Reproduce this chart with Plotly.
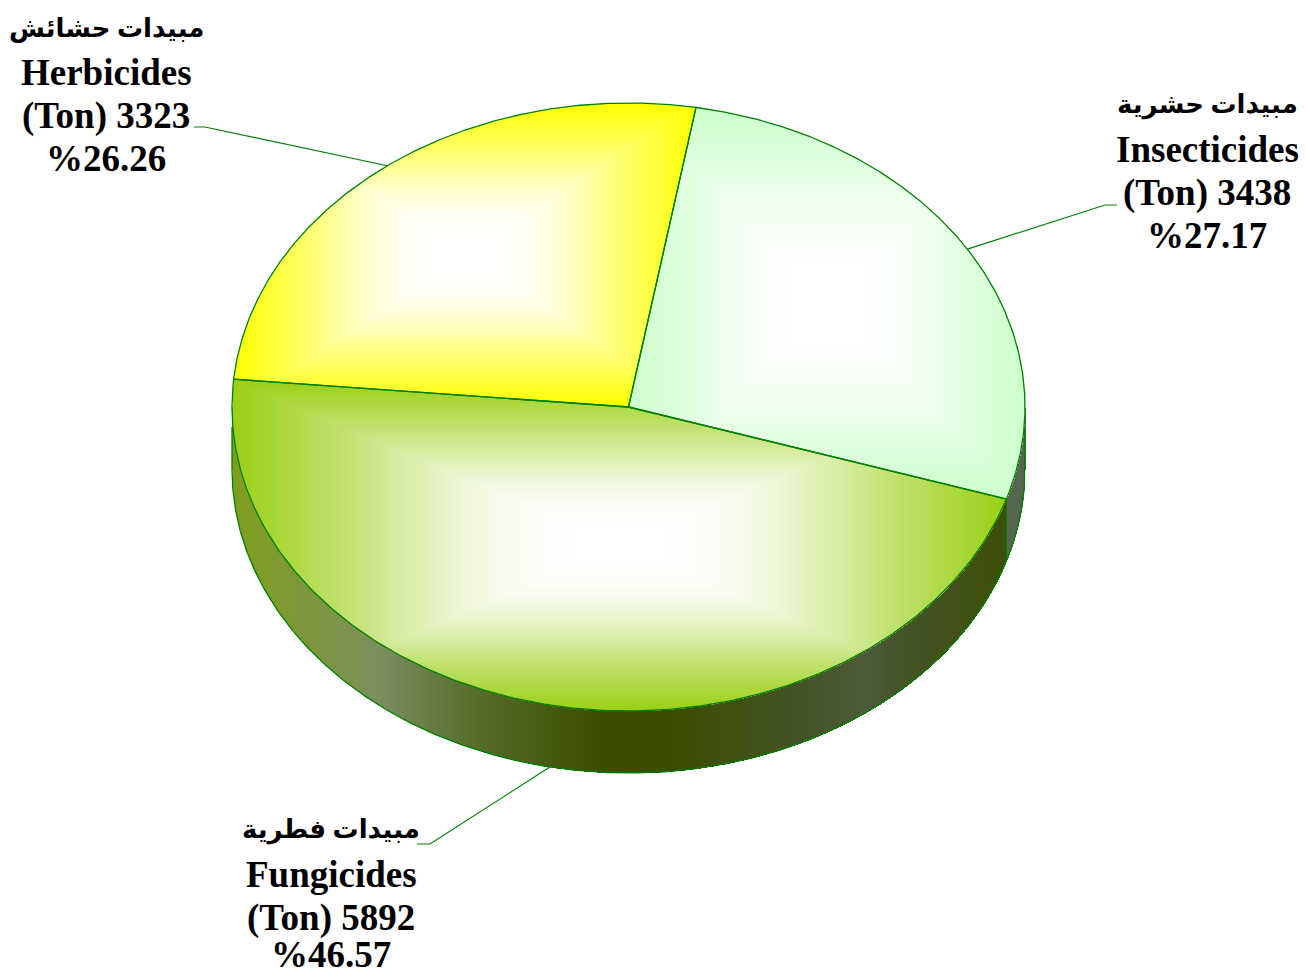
import numpy as np
import plotly.graph_objects as go

# ---- data ----
names_ar = ["مبيدات حشرية", "مبيدات فطرية", "مبيدات حشائش"]
names_en = ["Insecticides", "Fungicides", "Herbicides"]
tons = [3438, 5892, 3323]
pct_labels = ["%27.17", "%46.57", "%26.26"]
face_colors = ["#CCFFCC", "#9ACF14", "#FFFF00"]

# ---- pie geometry and styling ----
W, H = 1306, 976
CX, CY, RX, RY, DEPTH = 628.5, 407.0, 396.5, 304.0, 62.0
ROTATION = 9.8
EDGE = "#008000"
LABEL_POS = [(1207, 105), (331, 830), (106, 28)]   # centre of the first label line
ELBOWS = [((1117, 205), (1105, 205)), ((417, 844), (430, 844)), ((194, 127), (205, 127))]
LINE_GAP = 42.8
wall_stops = [[(0.0, "#7F9F1A"), (0.19, "#7B8E5E"), (0.32, "#556B28"), (0.476, "#3C4D00"), (0.554, "#3C4D00"),
               (0.71, "#425220"), (0.82, "#4D5A3A"), (0.865, "#465428"), (1.0, "#3C4E08")],
              [(0.0, "#55654F"), (1.0, "#55654F")]]
mix_stops = [(0, 0.0), (0.1, 0.0), (0.25, 0.04), (0.4, 0.16), (0.55, 0.37), (0.7, 0.6), (0.85, 0.8), (1, 1.0)]

total = sum(tons)
angles = ROTATION + np.cumsum([0] + tons) / total * 360.0


def pt(a, dy=0.0):
    r = np.deg2rad(a)
    return CX + RX * np.sin(r), CY - RY * np.cos(r) + dy


def hex_rgb(c):
    return [int(c[i:i + 2], 16) for i in (1, 3, 5)]


def colorscale(c):
    rgb = hex_rgb(c)
    return [[t, "rgb(%d,%d,%d)" % tuple(round(255 + (v - 255) * m) for v in rgb)] for t, m in mix_stops]


xs = np.arange(int(CX - RX) - 2, int(CX + RX) + 3) + 0.0
ys = np.arange(int(CY - RY) - 2, int(CY + RY + DEPTH) + 3) + 0.0
X, Y = np.meshgrid(xs, ys)
U, V = (X - CX) / RX, (Y - CY) / RY
ANG = (np.rad2deg(np.arctan2(U, -V))) % 360

fig = go.Figure()

# side wall (only the front half is visible); split where slices meet on the front rim
front_split = pt(angles[1])[0]
inside_x = np.abs(U) <= 1
wall_y = CY + DEPTH + RY * np.sqrt(np.clip(1 - U ** 2, 0, 1))
wall_mask = inside_x & (Y >= CY) & (Y <= wall_y)
for i, (lo, hi) in enumerate([(CX - RX, front_split), (front_split, CX + RX)]):
    m = wall_mask & (X >= lo) & (X <= hi)
    t = (X - lo) / (hi - lo)
    z = np.where(m, t, np.nan).astype("float32")
    fig.add_trace(go.Heatmap(x=xs, y=ys, z=z, zmin=0, zmax=1, showscale=False, hoverinfo="skip",
                             colorscale=[[a, b] for a, b in wall_stops[i]]))

# top faces with a rectangular path gradient over each slice's bounding box
inside = U ** 2 + V ** 2 <= 1
for i in range(3):
    a0, a1 = angles[i], angles[i + 1]
    arc = np.linspace(a0, a1, 400)
    px, py = pt(arc)
    px = np.append(px, CX)
    py = np.append(py, CY)
    x0, x1, y0, y1 = px.min(), px.max(), py.min(), py.max()
    mx, my = (x0 + x1) / 2, (y0 + y1) / 2
    t = np.maximum(np.abs(X - mx) / ((x1 - x0) / 2), np.abs(Y - my) / ((y1 - y0) / 2))
    rel = (ANG - a0) % 360
    m = inside & (rel <= (a1 - a0))
    z = np.where(m, np.clip(t, 0, 1), np.nan).astype("float32")
    fig.add_trace(go.Heatmap(x=xs, y=ys, z=z, zmin=0, zmax=1, showscale=False, hoverinfo="skip",
                             colorscale=colorscale(face_colors[i])))


def line(x, y, w=1.3):
    fig.add_trace(go.Scatter(x=x, y=y, mode="lines", line=dict(color=EDGE, width=w),
                             hoverinfo="skip", showlegend=False))


# slice outlines
for i in range(3):
    arc = np.linspace(angles[i], angles[i + 1], 300)
    px, py = pt(arc)
    line(np.r_[CX, px, CX], np.r_[CY, py, CY])
# wall outlines
arc = np.linspace(90, 270, 500)
px, py = pt(arc, DEPTH)
line(np.r_[CX + RX, px, CX - RX], np.r_[CY + 20, py, CY + 20])
ex, ey = pt(angles[1])
line([ex, ex], [ey, ey + DEPTH], 1)

# leader lines and labels
for i in range(3):
    mid = (angles[i] + angles[i + 1]) / 2
    dy = DEPTH if 90 < mid % 360 < 270 else 0
    tx, ty = pt(mid, dy)
    (e0x, e0y), (e1x, e1y) = ELBOWS[i]
    line([e0x, e1x, tx], [e0y, e1y, ty], 1.2)
    lx, ly = LABEL_POS[i]
    texts = [names_ar[i], names_en[i], "(Ton) %d" % tons[i], pct_labels[i]]
    for j, s in enumerate(texts):
        yy = min(ly + j * LINE_GAP + (2 if j else 0), H - 21.5)   # keep the text box on the page
        fig.add_annotation(x=lx, y=yy, text=s, showarrow=False,
                           xanchor="center", yanchor="middle", xref="x", yref="y",
                           font=dict(family="Liberation Serif, DejaVu Sans", size=26 if j == 0 else 37,
                                     color="black", weight="bold"))

fig.update_layout(width=W, height=H, margin=dict(l=0, r=0, t=0, b=0), showlegend=False,
                  paper_bgcolor="white", plot_bgcolor="white",
                  xaxis=dict(range=[0, W], visible=False, fixedrange=True),
                  yaxis=dict(range=[H, 0], visible=False, fixedrange=True))

fig.write_html("out.html", config={"displayModeBar": False},
               post_script="document.body.style.margin='0';document.body.style.overflow='hidden';")
